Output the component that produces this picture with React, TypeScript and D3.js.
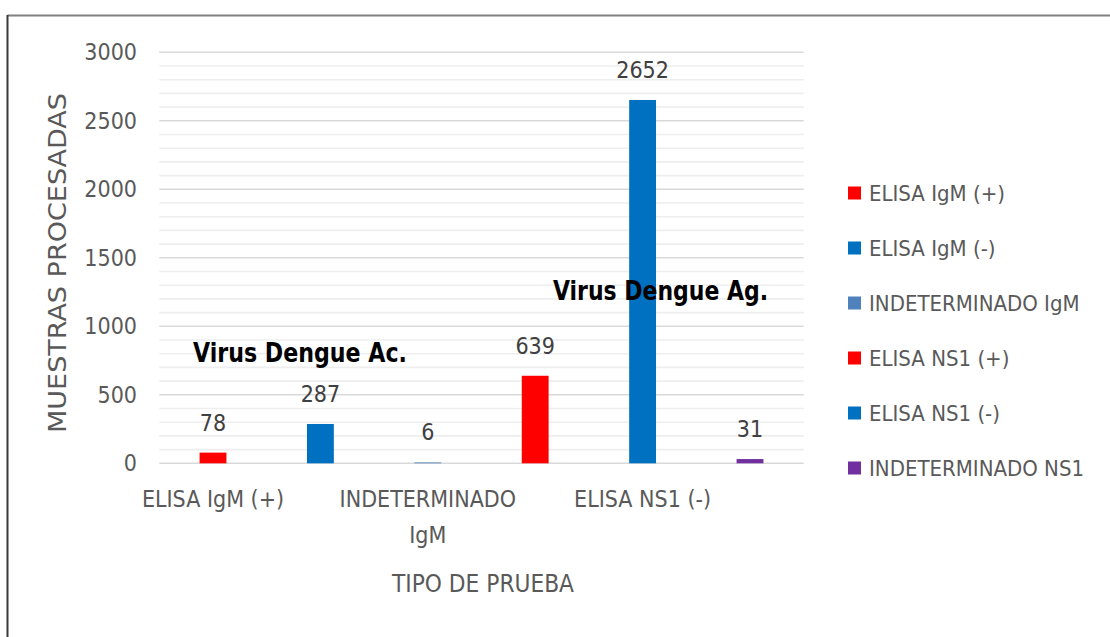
import React from "react";
import * as d3 from "d3";

const categories = [
  "ELISA IgM (+)",
  "ELISA IgM (-)",
  "INDETERMINADO IgM",
  "ELISA NS1 (+)",
  "ELISA NS1 (-)",
  "INDETERMINADO NS1",
];
const values = [78, 287, 6, 639, 2652, 31];
const colors = ["#FF0000", "#0070C0", "#4F81BD", "#FF0000", "#0070C0", "#7030A0"];
const yTicks = [0, 500, 1000, 1500, 2000, 2500, 3000];
const minorTicks = d3.range(100, 3000, 100).filter((v) => v % 500 !== 0);
// only every second category gets a tick label, like the original
const xLabelLines: string[][] = [["ELISA IgM (+)"], [], ["INDETERMINADO", "IgM"], [], ["ELISA NS1 (-)"], []];

const FONT = "'Liberation Sans Narrow', 'DejaVu Sans Condensed', 'Roboto', sans-serif";
const W = 1110;
const H = 637;

export default function App() {
  const x = d3.scaleBand<string>().domain(categories).range([159.3, 803.7]).paddingInner(0.75).paddingOuter(0.375);
  const y = d3.scaleLinear().domain([0, 3000]).range([463.3, 52.3]);
  const [x0, x1] = x.range();

  return (
    <svg width={W} height={H} style={{ position: "absolute", left: 0, top: 0, background: "#fff" }} fontFamily={FONT}>
      {/* chart frame */}
      <line x1={7.5} x2={W} y1={15.5} y2={15.5} stroke="#808080" strokeWidth={2} />
      <line x1={7.5} x2={7.5} y1={15} y2={H} stroke="#3a3a3a" strokeWidth={2} />

      {/* grid */}
      {minorTicks.map((t) => (
        <line key={"m" + t} x1={x0} x2={x1} y1={y(t)} y2={y(t)} stroke="#EEEEEE" strokeWidth={1.6} />
      ))}
      {yTicks.map((t) => (
        <line key={"g" + t} x1={x0} x2={x1} y1={y(t)} y2={y(t)} stroke="#D9D9D9" strokeWidth={1.6} />
      ))}

      {/* y ticks */}
      {yTicks.map((t) => (
        <text key={"t" + t} x={137} y={y(t) + 8} textAnchor="end" fontSize={23} fill="#595959">
          {t}
        </text>
      ))}

      {/* bars */}
      {categories.map((c, i) => (
        <rect key={c} x={x(c)} y={y(values[i])} width={x.bandwidth()} height={y(0) - y(values[i])} fill={colors[i]} />
      ))}

      {/* value labels */}
      {categories.map((c, i) => (
        <text key={"v" + c} x={(x(c) as number) + x.bandwidth() / 2} y={y(values[i]) - 22} textAnchor="middle" fontSize={23} fill="#404040">
          {values[i]}
        </text>
      ))}

      {/* x labels */}
      {categories.map((c, i) =>
        xLabelLines[i].map((ln, j) => (
          <text key={"x" + c + j} x={(x(c) as number) + x.bandwidth() / 2} y={507 + j * 36} textAnchor="middle" fontSize={23} fill="#595959">
            {ln}
          </text>
        ))
      )}

      {/* axis titles */}
      <text transform="translate(66,263) rotate(-90)" textAnchor="middle" fontSize={25} fill="#595959" textLength={340} lengthAdjust="spacingAndGlyphs">
        MUESTRAS PROCESADAS
      </text>
      <text x={483} y={592} textAnchor="middle" fontSize={25} fill="#595959" textLength={182} lengthAdjust="spacingAndGlyphs">
        TIPO DE PRUEBA
      </text>

      {/* annotations */}
      <text x={193} y={362} fontSize={27} fontWeight="bold" fill="#000" textLength={214} lengthAdjust="spacingAndGlyphs">
        Virus Dengue Ac.
      </text>
      <text x={553} y={300} fontSize={27} fontWeight="bold" fill="#000" textLength={215} lengthAdjust="spacingAndGlyphs">
        Virus Dengue Ag.
      </text>

      {/* legend */}
      {categories.map((c, i) => (
        <g key={"l" + c} transform={`translate(848,${193 + i * 55})`}>
          <rect x={0} y={-6.5} width={13} height={13} fill={colors[i]} />
          <text x={21} y={8} fontSize={22} fill="#595959">
            {c}
          </text>
        </g>
      ))}
    </svg>
  );
}
